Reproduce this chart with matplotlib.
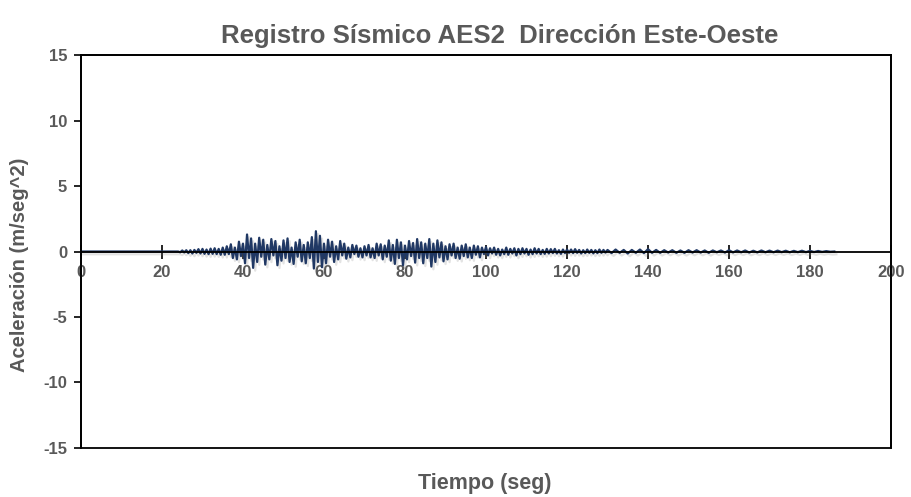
import numpy as np
import matplotlib.pyplot as plt
import matplotlib.patheffects as pe

plt.rcParams['axes.unicode_minus'] = False

# --- record (peak/trough values, m/seg^2) ---
t_quiet = [0.0, 24.0]
a_quiet = [0.0, 0.0]

# 24.5 .. 35 s, every 0.5 s
a_onset = [-0.06, 0.08, -0.07, 0.1, -0.12, 0.1, -0.15, 0.12, -0.1,
           0.18, -0.15, 0.2, -0.18, 0.15, -0.2, 0.22, -0.18, 0.25, -0.2,
           0.2, -0.25, 0.3]

# 35.5 .. 100 s, every 0.5 s
a_strong = [-0.25, 0.4, -0.2, 0.55, -0.5, 0.3, -0.6, 0.75, -0.35, 0.6,
            -0.9, 1.3, -0.5, 1.0, -1.25, 0.6, -0.8, 1.05, -0.4, 0.9,
            -1.0, 0.5, -0.6, 0.95, -0.3, 0.8, -1.05, 0.4, -0.7, 0.85,
            -0.5, 1.0, -0.8, 0.3, -0.95, 0.7, -0.4, 0.9, -0.75, 0.5,
            -0.9, 0.7, -0.5, 1.1, -1.3, 1.55, -0.8, 1.2, -1.2, 0.6,
            -0.9, 0.9, -0.4, 0.75, -0.8, 0.4, -0.6, 0.8, -0.3, 0.6,
            -0.55, 0.3, -0.45, 0.5, -0.2, 0.45, -0.4, 0.25, -0.45, 0.4,
            -0.3, 0.5, -0.45, 0.25, -0.5, 0.6, -0.3, 0.55, -0.6, 0.45,
            -0.4, 0.85, -0.7, 0.5, -0.95, 0.9, -0.5, 0.7, -1.05, 0.45,
            -0.6, 0.8, -0.35, 0.65, -0.85, 0.95, -0.5, 0.7, -0.9, 0.6,
            -0.5, 0.95, -1.15, 0.6, -0.8, 0.85, -0.45, 0.7, -0.75, 0.4,
            -0.6, 0.55, -0.3, 0.6, -0.5, 0.3, -0.55, 0.45, -0.35, 0.55,
            -0.45, 0.3, -0.5, 0.45, -0.25, 0.4, -0.45, 0.3, -0.2, 0.35]

# 100.5 .. 130 s, every 0.5 s
a_decay = [-0.3, 0.25, -0.15, 0.3, -0.25, 0.2, -0.3, 0.15, -0.2, 0.3,
           -0.25, 0.2, -0.15, 0.25, -0.3, 0.2, -0.2, 0.25, -0.15, 0.2,
           -0.25, 0.15, -0.2, 0.25, -0.15, 0.2, -0.2, 0.12, -0.18, 0.2,
           -0.15, 0.18, -0.12, 0.2, -0.15, 0.1, -0.18, 0.15, -0.12, 0.15,
           -0.1, 0.15, -0.12, 0.18, -0.1, 0.12, -0.15, 0.1, -0.12, 0.15,
           -0.1, 0.12, -0.14, 0.1, -0.12, 0.15, -0.1, 0.12, -0.08, 0.12]

# 131 .. 186 s, every 1 s
a_coda = [-0.12, 0.15, -0.1, 0.12, -0.15, 0.12, -0.1, 0.15, -0.12, 0.18,
          -0.1, 0.12, -0.1, 0.1, -0.08, 0.1, -0.1, 0.08, -0.1, 0.1,
          -0.08, 0.1, -0.08, 0.08, -0.1, 0.08, -0.06, 0.08, -0.08, 0.1,
          -0.07, 0.08, -0.06, 0.08, -0.08, 0.06, -0.07, 0.08, -0.06, 0.07,
          -0.06, 0.07, -0.05, 0.06, -0.06, 0.05, -0.05, 0.06, -0.05, 0.05,
          -0.04, 0.04, -0.03, 0.03, -0.02, 0.0]

t = np.concatenate([t_quiet,
                    24.5 + 0.5 * np.arange(len(a_onset)),
                    35.5 + 0.5 * np.arange(len(a_strong)),
                    100.5 + 0.5 * np.arange(len(a_decay)),
                    131.0 + np.arange(len(a_coda))])
a = np.concatenate([a_quiet, a_onset, a_strong, a_decay, a_coda])

GRAY = '#595959'
NAVY = '#203864'
FONT = 'Liberation Sans'

fig = plt.figure(figsize=(9.12, 4.97), dpi=100)
ax = fig.add_axes([0.0888, 0.0986, 0.8882, 0.7907])

ax.plot(t, a, color=NAVY, lw=1.6,
        path_effects=[pe.SimpleLineShadow(offset=(1.5, -2), alpha=0.22, shadow_color='gray'),
                      pe.Normal()])

ax.set_xlim(0, 200)
ax.set_ylim(-15, 15)
ax.set_xticks(np.arange(0, 201, 20))
ax.set_yticks(np.arange(-15, 16, 5))

# x axis crosses at zero, frame drawn around the plot area
ax.spines['bottom'].set_position(('data', 0))
for s in ['left', 'right', 'top', 'bottom']:
    ax.spines[s].set_linewidth(1.3)
ax.patch.set_edgecolor('black')
ax.patch.set_linewidth(1.3)

ax.tick_params(axis='x', direction='inout', length=10, width=1.2, colors='black',
               labelcolor=GRAY, labelsize=12, pad=5)
ax.tick_params(axis='y', direction='out', length=5, width=1.2, colors='black',
               labelcolor=GRAY, labelsize=12, pad=5)
for lab in ax.get_xticklabels() + ax.get_yticklabels():
    lab.set_fontweight('bold')
    lab.set_family(FONT)

fig.text(0.548, 0.928, 'Registro Sísmico AES2  Dirección Este-Oeste', ha='center', va='center',
         fontsize=18.5, fontweight='bold', color=GRAY, family=FONT)
fig.text(0.532, 0.028, 'Tiempo (seg)', ha='center', va='center',
         fontsize=15.5, fontweight='bold', color=GRAY, family=FONT)
fig.text(0.021, 0.467, 'Aceleración (m/seg^2)', ha='center', va='center', rotation=90,
         fontsize=14.5, fontweight='bold', color=GRAY, family=FONT)

fig.savefig('out.png', dpi=100)
